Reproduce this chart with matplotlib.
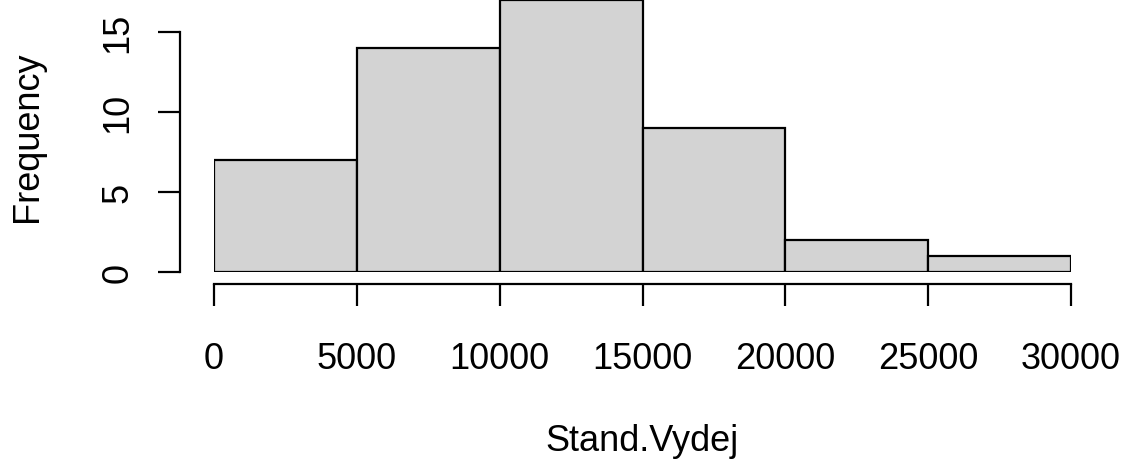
import numpy as np
import matplotlib.pyplot as plt

plt.rcParams['font.family'] = ['Liberation Sans', 'DejaVu Sans']

# --- Histogram data ---
bin_edges = [0, 5000, 10000, 15000, 20000, 25000, 30000]
counts = [7, 14, 17, 9, 2, 1]
x_ticks = [0, 5000, 10000, 15000, 20000, 25000, 30000]
y_ticks = [0, 5, 10, 15]

W, H = 1133, 464
fig = plt.figure(figsize=(W / 100, H / 100), dpi=100)

# plot region in pixels (R-style layout)
left_px, right_px, base_px = 214, 1071, 273
px_per_count = 16.0
ax = fig.add_axes([left_px / W, (H - base_px) / H, (right_px - left_px) / W, base_px / H])

ax.bar(bin_edges[:-1], counts, width=np.diff(bin_edges), align='edge',
       color='#d3d3d3', edgecolor='black', linewidth=1.6)

ax.set_xlim(bin_edges[0], bin_edges[-1])
ax.set_ylim(0, base_px / px_per_count)

# detached axes like base R graphics
for side in ['top', 'right']:
    ax.spines[side].set_visible(False)
ax.spines['left'].set_position(('outward', 34 * 0.72))
ax.spines['bottom'].set_position(('outward', 12 * 0.72))
ax.spines['left'].set_bounds(y_ticks[0], y_ticks[-1])
ax.spines['bottom'].set_bounds(x_ticks[0], x_ticks[-1])
for side in ['left', 'bottom']:
    ax.spines[side].set_linewidth(1.6)

ax.set_xticks(x_ticks)
ax.set_xticklabels([str(t) for t in x_ticks])
ax.set_yticks(y_ticks)
ax.set_yticklabels([str(t) for t in y_ticks], rotation=90, va='center')
ax.tick_params(axis='both', length=16, width=1.6, labelsize=26)
ax.tick_params(axis='x', pad=25)
ax.tick_params(axis='y', pad=16)

fig.text(27 / W, 1 - 137 / H, 'Frequency', rotation=90, ha='center', va='center', fontsize=26)
fig.text(642 / W, 1 - 442 / H, 'Stand.Vydej', ha='center', va='center', fontsize=26)

fig.savefig('out.png', dpi=100)
